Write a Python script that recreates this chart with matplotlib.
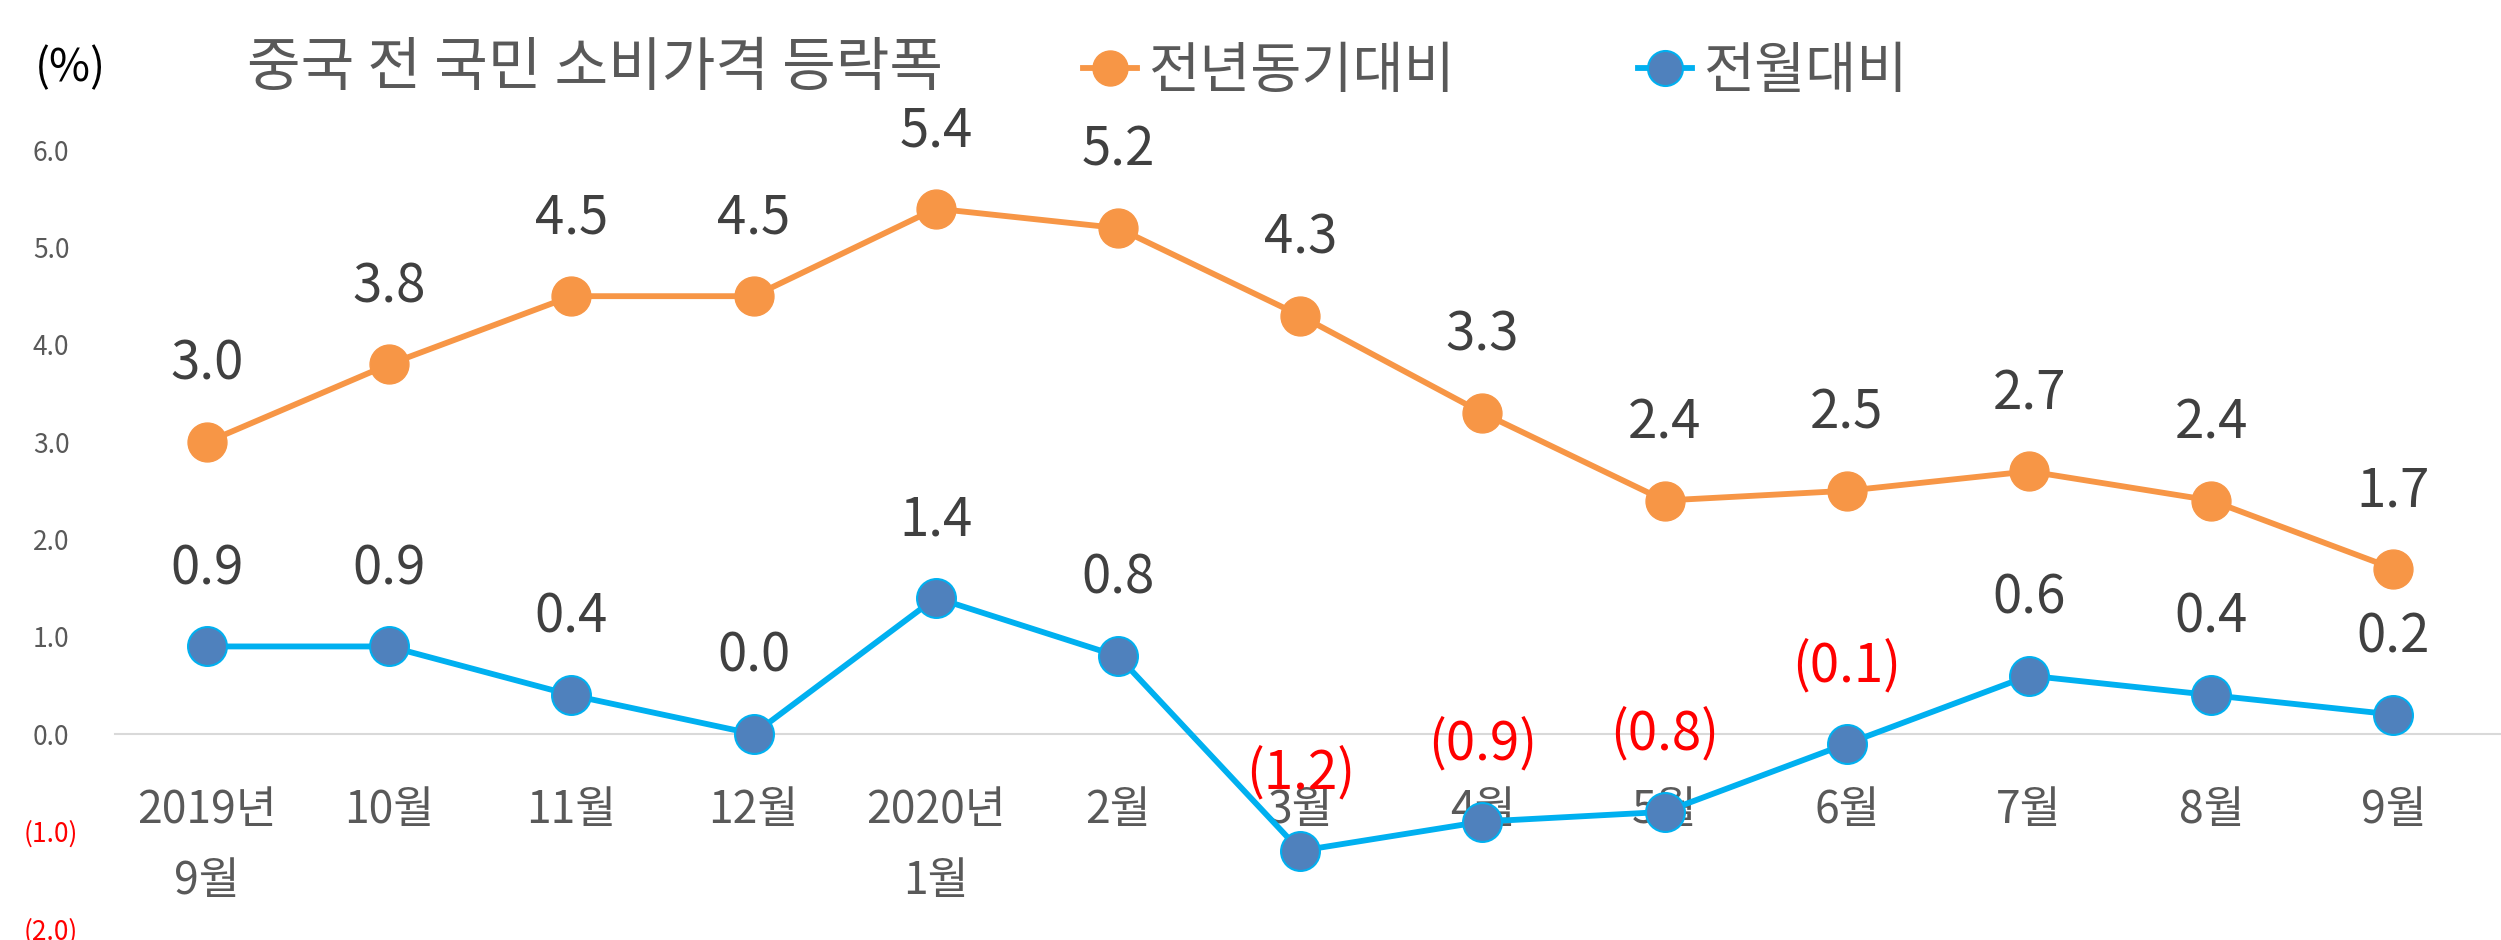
import matplotlib
matplotlib.use("Agg")
import matplotlib.pyplot as plt

plt.rcParams['font.family'] = ['Noto Sans CJK KR', 'DejaVu Sans']

# data
months = ['2019년\n9월', '10월', '11월', '12월', '2020년\n1월', '2월', '3월',
          '4월', '5월', '6월', '7월', '8월', '9월']
yoy = [3.0, 3.8, 4.5, 4.5, 5.4, 5.2, 4.3, 3.3, 2.4, 2.5, 2.7, 2.4, 1.7]
mom = [0.9, 0.9, 0.4, 0.0, 1.4, 0.8, -1.2, -0.9, -0.8, -0.1, 0.6, 0.4, 0.2]
y_ticks = [-2, -1, 0, 1, 2, 3, 4, 5, 6]
series_names = ['전년동기대비', '전월대비']

W, H = 2501, 940
fig = plt.figure(figsize=(W / 100, H / 100), dpi=100)
ax = fig.add_axes([115 / W, 0, 1 - 115 / W, 1])

x = list(range(len(months)))
l1, = ax.plot(x, yoy, color='#F79646', lw=4.2, marker='o', ms=28,
              mfc='#F79646', mec='#F79646', zorder=3)
l2, = ax.plot(x, mom, color='#00B0F0', lw=4.2, marker='o', ms=28,
              mfc='#4F81BD', mec='#00B0F0', mew=1.5, zorder=3)

def fmt(v):
    return f'({abs(v):.1f})' if v < 0 else f'{v:.1f}'

for series in (yoy, mom):
    for i, v in enumerate(series):
        ax.annotate(fmt(v), (i, v), xytext=(0, 56), textcoords='offset points',
                    ha='center', va='center', fontsize=38,
                    color='#FF0000' if v < 0 else '#404040', zorder=4)

ax.set_xlim(-0.505, 12.59)
ax.set_ylim(-2.117, 7.544)

for s in ['top', 'right', 'left']:
    ax.spines[s].set_visible(False)
ax.spines['bottom'].set_position(('data', 0))
ax.spines['bottom'].set_color('#d9d9d9')
ax.spines['bottom'].set_linewidth(1.5)
ax.spines['bottom'].set_zorder(1)

ax.set_xticks(x, months)
ax.tick_params(axis='x', length=0, pad=38, labelsize=32, labelcolor='#595959')
for lab in ax.get_xticklabels():
    lab.set_linespacing(1.7)

ax.set_yticks(y_ticks, [fmt(float(t)) for t in y_ticks])
ax.tick_params(axis='y', length=0, pad=46, labelsize=19)
for t, lab in zip(y_ticks, ax.get_yticklabels()):
    lab.set_horizontalalignment('center')
    lab.set_color('#FF0000' if t < 0 else '#595959')

fig.text(247 / W, 1 - 68 / H, '중국 전 국민 소비가격 등락폭', fontsize=42,
         color='#595959', va='center', ha='left')
fig.text(35 / W, 1 - 68 / H, '(%)', fontsize=32, color='black', va='center', ha='left')

fig.legend([l1, l2], series_names, loc='upper left', bbox_to_anchor=(1083 / W, 1 - 43 / H),
           ncol=2, frameon=False, fontsize=40, handlelength=0.97, handletextpad=0.2,
           columnspacing=3.3, markerscale=0.9, borderpad=0, borderaxespad=0,
           labelcolor='#595959')

fig.savefig('out.png', dpi=100)
